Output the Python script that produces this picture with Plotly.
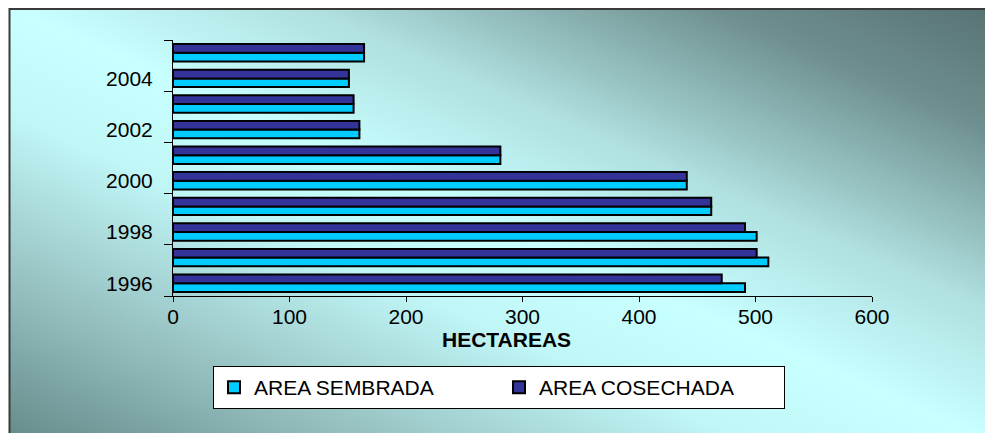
import base64
import plotly.graph_objects as go

years = [1996, 1997, 1998, 1999, 2000, 2001, 2002, 2003, 2004, 2005]
area_sembrada = [491, 511, 501, 462, 441, 281, 160, 155, 151, 164]
area_cosechada = [471, 501, 491, 462, 441, 281, 160, 155, 151, 164]
year_ticks = [1996, 1998, 2000, 2002, 2004]
x_ticks = [0, 100, 200, 300, 400, 500, 600]

W, H = 993, 433
L, R, T, B = 165, 129, 32, 145
PW, PH = W - L - R, H - T - B

svg = f'''<svg xmlns="http://www.w3.org/2000/svg" width="{W}" height="{H}" viewBox="0 0 {W} {H}" preserveAspectRatio="none">
<defs><linearGradient id="g" x1="1" y1="0" x2="0" y2="1">
<stop offset="0" stop-color="#567070"/>
<stop offset="0.15" stop-color="#6f9090"/>
<stop offset="0.35" stop-color="#b0e0e0"/>
<stop offset="0.5" stop-color="#c8ffff"/>
<stop offset="0.62" stop-color="#c0f6f6"/>
<stop offset="0.8" stop-color="#98c2c2"/>
<stop offset="1" stop-color="#628686"/>
</linearGradient></defs>
<rect x="1.5" y="1" width="{W+10}" height="{H+10}" fill="url(#g)" stroke="#3a3a3a" stroke-width="2"/>
</svg>'''
src = "data:image/svg+xml;base64," + base64.b64encode(svg.encode()).decode()

font = "Liberation Sans, Arial, sans-serif"

fig = go.Figure()
fig.add_trace(go.Bar(
    y=years, x=area_sembrada, orientation="h", name="AREA SEMBRADA",
    marker=dict(color="#00CCFF", line=dict(color="black", width=2)),
))
fig.add_trace(go.Bar(
    y=years, x=area_cosechada, orientation="h", name="AREA COSECHADA",
    marker=dict(color="#333399", line=dict(color="black", width=2)),
))

fig.update_layout(
    width=W, height=H,
    margin=dict(l=L, r=R, t=T, b=B, pad=0),
    paper_bgcolor="white",
    plot_bgcolor="rgba(0,0,0,0)",
    barmode="group", bargap=0.32, bargroupgap=0,
    font=dict(family=font, size=21, color="black"),
    showlegend=True,
    legend=dict(
        orientation="h", x=(205 - L) / PW, y=(H - B - 358) / PH,
        xanchor="left", yanchor="top",
        bgcolor="white", bordercolor="black", borderwidth=1,
        font=dict(family=font, size=21, color="black"),
        entrywidth=240, traceorder="normal",
    ),
    images=[dict(
        source=src, xref="paper", yref="paper",
        x=-L / PW, y=1 + T / PH, sizex=W / PW, sizey=H / PH,
        xanchor="left", yanchor="top", sizing="stretch", layer="below",
    )],
    annotations=[dict(
        text="<b>HECTAREAS</b>", xref="paper", yref="paper",
        x=(498 - L) / PW, y=(H - B - 331) / PH, xanchor="center", yanchor="middle",
        showarrow=False, font=dict(family=font, size=21, color="black"),
    )],
)

fig.update_xaxes(
    range=[0, 600], tickvals=x_ticks, ticks="outside", ticklen=5,
    ticklabelstandoff=-3,
    tickcolor="black", showline=True, linecolor="black", linewidth=1,
    showgrid=False, zeroline=False, tickfont=dict(family=font, size=21),
)
fig.update_yaxes(
    range=[1995.5, 2005.5], tickvals=year_ticks, ticks="",
    ticklabelstandoff=15,
    minor=dict(tickvals=[1995.5, 1997.5, 1999.5, 2001.5, 2003.5, 2005.5],
               ticks="outside", ticklen=8, tickcolor="black"),
    showline=True, linecolor="black", linewidth=1,
    showgrid=False, zeroline=False, tickfont=dict(family=font, size=21),
)

fig.write_html("out.html")
